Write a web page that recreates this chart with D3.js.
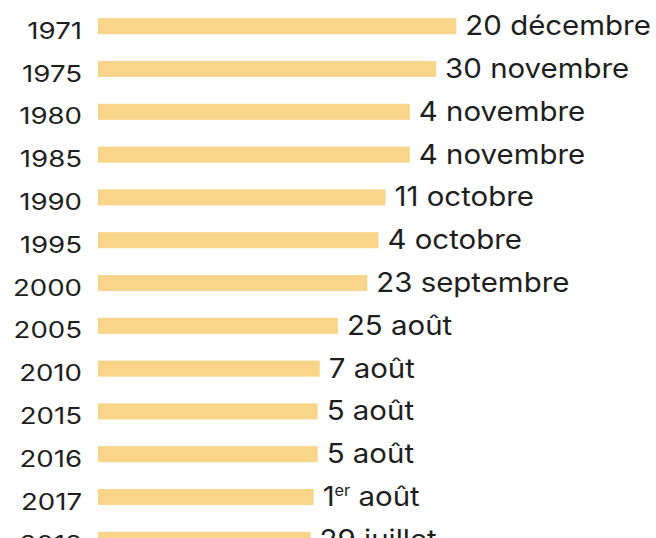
<!DOCTYPE html>
<meta charset="utf-8">
<style>
    body { margin: 0; background: #fff; overflow: hidden; }
    text { font-family: Inter, "Liberation Sans", sans-serif; fill: #1e1e1e; }
    .bar { fill: #f8d589; }
</style>
<body>
<svg width="656" height="538"></svg>
<script src="https://d3js.org/d3.v7.min.js"></script>
<script>
    // jour du dépassement (jour de l'année)
    const years = ["1971", "1975", "1980", "1985", "1990", "1995", "2000", "2005", "2010", "2015", "2016", "2017", "2018"];
    const days = [354, 334, 308, 308, 284, 277, 266, 237, 219, 217, 217, 213, 210];
    const labels = ["20 décembre", "30 novembre", "4 novembre", "4 novembre", "11 octobre", "4 octobre",
        "23 septembre", "25 août", "7 août", "5 août", "5 août", "1er août", "29 juillet"];

    const data = years.map((y, i) => ({ year: y, day: days[i], label: labels[i] }));

    const svg = d3.select("svg");

    const x = d3.scaleLinear()
        .domain([0, 365])
        .range([98, 467.5]);

    const y = d3.scalePoint()
        .domain(years)
        .range([26.2, 26.2 + 12 * 42.8]);

    const barH = 16;

    const row = svg.selectAll(".row")
        .data(data)
        .enter().append("g")
        .attr("class", "row");

    row.append("rect")
        .attr("class", "bar")
        .attr("x", x(0))
        .attr("y", d => y(d.year) - barH / 2)
        .attr("width", d => x(d.day) - x(0))
        .attr("height", barH);

    // années à gauche (police large -> étirement horizontal)
    row.append("text")
        .attr("transform", d => "translate(82," + (y(d.year) + 12.6) + ") scale(1.2,1)")
        .attr("text-anchor", "end")
        .style("font-size", "23px")
        .text(d => d.year);

    // dates en bout de barre
    const lab = row.append("text")
        .attr("transform", d => "translate(" + (x(d.day) + 9) + "," + (y(d.year) + 9) + ") scale(1.09,1)")
        .style("font-size", "27px");

    lab.each(function (d) {
        const t = d3.select(this);
        const m = d.label.match(/^(\d+)er (.*)$/);
        if (m) {
            t.append("tspan").text(m[1]);
            t.append("tspan").attr("dy", -10).style("font-size", "15px").text("er");
            t.append("tspan").attr("dy", 10).text(" " + m[2]);
        } else {
            t.text(d.label);
        }
    });
</script>
</body>
